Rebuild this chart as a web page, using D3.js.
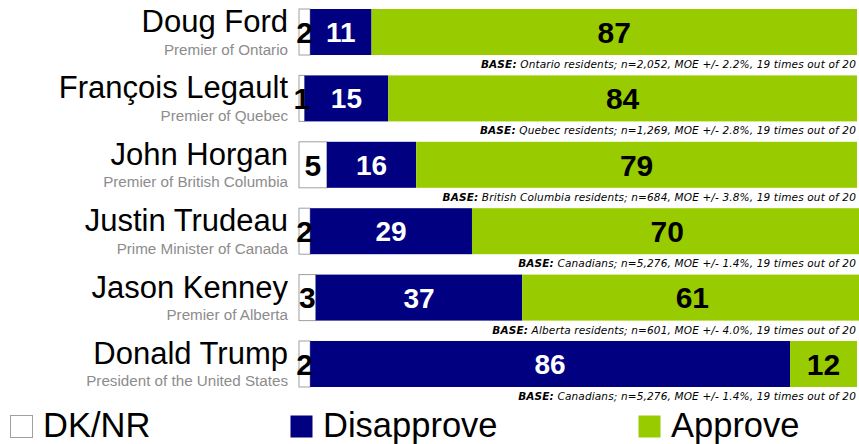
<!DOCTYPE html>
<html>
<head>
<meta charset="utf-8">
<script src="https://cdn.jsdelivr.net/npm/d3@7"></script>
<style>
  body { margin: 0; background: #fff; }
  svg { display: block; }
</style>
</head>
<body>
<svg id="chart" width="859" height="444"></svg>
<script>
// Leader approval ratings, percentages
const leaders = ["Doug Ford", "François Legault", "John Horgan", "Justin Trudeau", "Jason Kenney", "Donald Trump"];
const roles = ["Premier of Ontario", "Premier of Quebec", "Premier of British Columbia", "Prime Minister of Canada", "Premier of Alberta", "President of the United States"];
const dkValues = [2, 1, 5, 2, 3, 2];
const disapproveValues = [11, 15, 16, 29, 37, 86];
const approveValues = [87, 84, 79, 70, 61, 12];
const baseGroups = ["Ontario residents", "Quebec residents", "British Columbia residents", "Canadians", "Alberta residents", "Canadians"];
const baseNotes = ["n=2,052, MOE +/- 2.2%", "n=1,269, MOE +/- 2.8%", "n=684, MOE +/- 3.8%", "n=5,276, MOE +/- 1.4%", "n=601, MOE +/- 4.0%", "n=5,276, MOE +/- 1.4%"];
const seriesNames = ["DK/NR", "Disapprove", "Approve"];

const colors = { "DK/NR": "#ffffff", "Disapprove": "#000080", "Approve": "#99cc00" };
const labelColors = { "DK/NR": "#000", "Disapprove": "#fff", "Approve": "#000" };
const labelSizes = { "DK/NR": 30, "Disapprove": 28, "Approve": 30 };

const svg = d3.select("#chart");
const font = "'Liberation Sans', Arial, Helvetica, sans-serif";

const x = d3.scaleLinear().domain([0, 100]).range([299, 857]);
const y = d3.scaleBand().domain(leaders).range([9, 387]).paddingInner(0.307).paddingOuter(0);
const bh = y.bandwidth();

const rows = leaders.map((name, i) => {
  const vals = [dkValues[i], disapproveValues[i], approveValues[i]];
  let acc = 0;
  const segs = vals.map((v, k) => {
    const s = { series: seriesNames[k], value: v, x0: acc, x1: acc + v };
    acc += v;
    return s;
  });
  return { name, role: roles[i], segs, group: baseGroups[i], note: baseNotes[i] };
});

const row = svg.selectAll("g.row").data(rows).join("g")
  .attr("class", "row")
  .attr("transform", d => `translate(0,${y(d.name)})`);

// stacked segments
row.selectAll("rect").data(d => d.segs).join("rect")
  .attr("x", s => x(s.x0))
  .attr("y", 0)
  .attr("width", s => x(s.x1) - x(s.x0))
  .attr("height", bh)
  .attr("fill", s => colors[s.series])
  .attr("stroke", s => s.series === "DK/NR" ? "#a0a0a0" : "none")
  .attr("stroke-width", 1);

// value labels, centred in each segment
row.selectAll("text.val").data(d => d.segs).join("text")
  .attr("class", "val")
  .attr("x", s => (x(s.x0) + x(s.x1)) / 2)
  .attr("y", s => bh / 2 + labelSizes[s.series] * 0.36)
  .attr("text-anchor", "middle")
  .attr("font-family", font)
  .attr("font-weight", "bold")
  .attr("font-size", s => labelSizes[s.series])
  .attr("fill", s => labelColors[s.series])
  .text(s => s.value);

// leader names
row.append("text")
  .attr("x", 288)
  .attr("y", 23)
  .attr("text-anchor", "end")
  .attr("font-family", font)
  .attr("font-size", 31)
  .attr("fill", "#000")
  .text(d => d.name);

// leader roles
row.append("text")
  .attr("x", 288)
  .attr("y", 45.5)
  .attr("text-anchor", "end")
  .attr("font-family", font)
  .attr("font-size", 15.2)
  .attr("fill", "#8c8c8c")
  .text(d => d.role);

// sample base notes
const base = row.append("text")
  .attr("x", 856)
  .attr("y", bh + 13)
  .attr("text-anchor", "end")
  .attr("font-family", "'DejaVu Sans', sans-serif")
  .attr("font-style", "italic")
  .attr("font-size", 10.5)
  .attr("letter-spacing", 0.15)
  .attr("fill", "#000");
base.append("tspan").attr("font-weight", "bold").text("BASE:");
base.append("tspan").text(d => ` ${d.group}; ${d.note}, 19 times out of 20`);

// legend
const legendX = [10, 290, 638];
const legend = svg.selectAll("g.legend").data(seriesNames).join("g")
  .attr("class", "legend")
  .attr("transform", (d, i) => `translate(${legendX[i]},415)`);
legend.append("rect")
  .attr("x", 0.5).attr("y", 0.5)
  .attr("width", 22).attr("height", 22)
  .attr("fill", d => colors[d])
  .attr("stroke", d => d === "DK/NR" ? "#a0a0a0" : "none");
legend.append("text")
  .attr("x", 33)
  .attr("y", 21.5)
  .attr("font-family", font)
  .attr("font-size", 34.5)
  .attr("fill", "#000")
  .text(d => d);
</script>
</body>
</html>
